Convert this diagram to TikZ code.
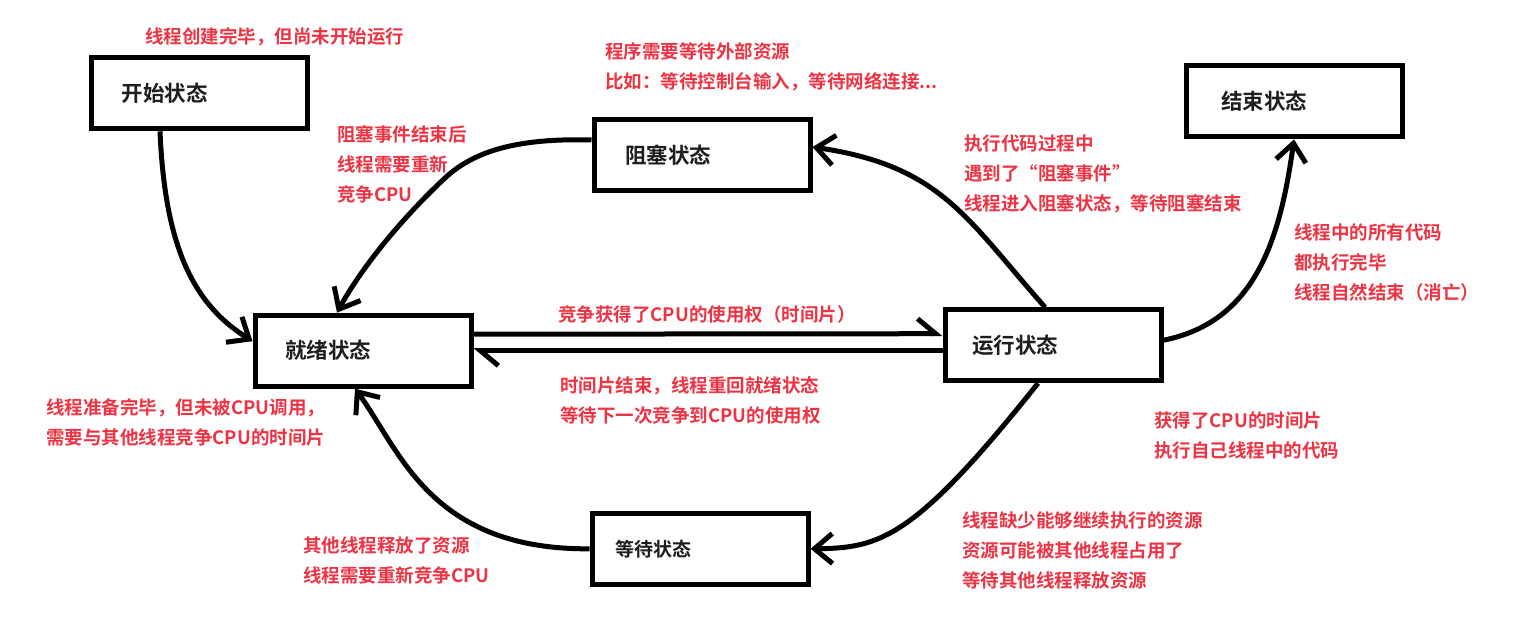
\documentclass[tikz,border=0pt]{standalone}
\usepackage{fontspec}
\setmainfont{Noto Sans CJK SC}[BoldFont={Noto Sans CJK SC Bold}]
\usetikzlibrary{arrows.meta,calc}
\definecolor{notered}{RGB}{236,52,68}
\definecolor{labelgray}{RGB}{30,30,30}
\begin{document}
\begin{tikzpicture}[x=1pt,y=-1pt,
  state/.style={draw=black, line width=5pt, minimum height=71pt, text width=216pt,
    inner xsep=0pt, inner ysep=0pt, align=left, text=labelgray,
    font=\fontsize{21.5}{24}\selectfont\bfseries},
  note/.style={text=notered, font=\fontsize{18.5}{30}\selectfont\bfseries, align=left,
    anchor=north west, inner sep=0pt, execute at begin node={\rule{0pt}{17pt}}},
  link/.style={line width=5pt, -{Straight Barb[length=18pt,width=30pt]}},
  halflink/.style={line width=5pt, -{Straight Barb[harpoon,length=18pt,width=30pt]}}
]
\fill[white] (0,0) rectangle (1517,642);
\useasboundingbox (0,0) rectangle (1517,642);

% thread states
\node[state] (start)   at (199.5,93.3)  {\hspace*{30pt}开始状态};
\node[state] (block)   at (702,155)     {\hspace*{31pt}阻塞状态};
\node[state] (end)     at (1294,101.4)  {\hspace*{35pt}结束状态};
\node[state] (ready)   at (363,350.7)   {\hspace*{30pt}就绪状态};
\node[state] (running) at (1053,345.2)  {\hspace*{27pt}运行状态};
\node[state, font=\fontsize{19}{22}\selectfont\bfseries] (wait) at (700,548.8) {\hspace*{23pt}等待状态};

% explanations
\node[note] (nstart) at (145,26.5) {线程创建完毕，但尚未开始运行};
\node[note] (nblock) at (605,42) {程序需要等待外部资源\\比如：等待控制台输入，等待网络连接...};
\node[note] (nunblock) at (337,125) {阻塞事件结束后\\线程需要重新\\竞争CPU};
\node[note] (ntoblock) at (964,135) {执行代码过程中\\遇到了“阻塞事件”\\线程进入阻塞状态，等待阻塞结束};
\node[note] (nend) at (1294,223.5) {线程中的所有代码\\都执行完毕\\线程自然结束（消亡）};
\node[note] (ngain) at (558,304) {竞争获得了CPU的使用权（时间片）};
\node[note] (nslice) at (560,376) {时间片结束，线程重回就绪状态\\等待下一次竞争到CPU的使用权};
\node[note] (nready) at (46,398.5) {线程准备完毕，但未被CPU调用，\\需要与其他线程竞争CPU的时间片};
\node[note] (nrun) at (1154,411.5) {获得了CPU的时间片\\执行自己线程中的代码};
\node[note] (nrelease) at (303,537) {其他线程释放了资源\\线程需要重新竞争CPU};
\node[note] (nwait) at (962,511) {线程缺少能够继续执行的资源\\资源可能被其他线程占用了\\等待其他线程释放资源};

% transitions
\draw[link] ($(start.south)+(-39.5,0)$) .. controls (165,250) and (195,305) .. ($(ready.west)+(0,-9.5)$);
\draw[link] ($(block.west)+(0,-15)$) .. controls (520,138) and (475,150) .. (445,178)
  .. controls (400,220) and (360,270) .. ($(ready.north)+(-26,0)$);
\draw[link] ($(running.north)+(-8,0)$) .. controls (966,218) and (941,166) .. ($(block.east)+(0,-8)$);
\draw[link] ($(running.east)+(0,-5)$) .. controls (1255,322) and (1280,240) .. (end.south);
\draw[halflink] ($(ready.east)+(0,-16.5)$) -- ($(running.west)+(0,-11.5)$);
\draw[halflink] ($(running.west)+(0,5.5)$) -- (ready.east);
\draw[link] ($(running.south)+(-15,0)$) .. controls (914,539) and (880,548) .. (wait.east);
\draw[link] (wait.west) .. controls (430,550) and (400,450) .. ($(ready.south)+(-8,0)$);
\end{tikzpicture}
\end{document}
